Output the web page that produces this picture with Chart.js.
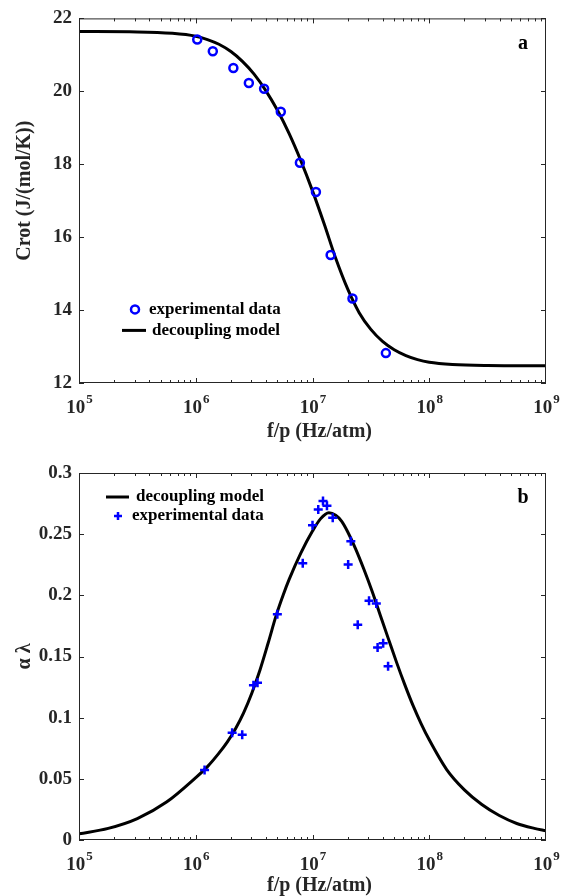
<!DOCTYPE html>
<html lang="en">
<head>
  <meta charset="UTF-8">
  <title>Crot and αλ vs f/p</title>
  <script src="https://cdn.jsdelivr.net/npm/chart.js"></script>
  <style>
    body {
      margin: 0;
      background: #fff;
    }

    .panel {
      position: absolute;
      left: 0;
      width: 569px;
      height: 450px;
    }

    #panelA { top: 0; }
    #panelB { top: 446px; }
  </style>
</head>
<body>
  <div class="panel" id="panelA"><canvas id="chartA" width="569" height="450"></canvas></div>
  <div class="panel" id="panelB"><canvas id="chartB" width="569" height="450"></canvas></div>

  <script>
    // panel a - rotational heat capacity
    const crotExpF = [1.03e6, 1.40e6, 2.10e6, 2.85e6, 3.85e6, 5.35e6, 7.8e6, 1.07e7, 1.43e7, 2.2e7, 4.25e7];
    const crotExpVal = [21.42, 21.10, 20.64, 20.23, 20.07, 19.44, 18.04, 17.24, 15.51, 14.32, 12.82];
    const crotModelF = [1e5, 3.16e5, 6.31e5, 1e6, 1.26e6, 1.58e6, 2.0e6, 2.51e6, 3.16e6, 3.98e6, 5.01e6,
      6.31e6, 7.94e6, 1e7, 1.26e7, 1.58e7, 2.0e7, 2.51e7, 3.16e7, 3.98e7, 5.01e7, 6.31e7, 7.94e7,
      1e8, 1.58e8, 3.16e8, 1e9];
    const crotModelVal = [21.64, 21.63, 21.59, 21.51, 21.42, 21.29, 21.09, 20.82, 20.47, 20.02, 19.48,
      18.84, 18.10, 17.27, 16.36, 15.42, 14.58, 13.93, 13.47, 13.14, 12.91, 12.75, 12.64,
      12.57, 12.51, 12.48, 12.47];

    // panel b - alpha lambda
    const alExpF = [1.19e6, 2.05e6, 2.50e6, 3.12e6, 3.38e6, 5.0e6, 8.25e6, 1.0e7, 1.12e7, 1.23e7,
      1.33e7, 1.49e7, 2.02e7, 2.13e7, 2.44e7, 3.05e7, 3.52e7, 3.61e7, 4.03e7, 4.44e7];
    const alExpVal = [0.0572, 0.0877, 0.0860, 0.1266, 0.1285, 0.1846, 0.2262, 0.2573, 0.2701, 0.2772,
      0.2733, 0.2635, 0.2252, 0.2442, 0.1759, 0.1955, 0.1933, 0.1574, 0.1609, 0.1421];
    const alModelF = [1e5, 1.78e5, 3.16e5, 5.62e5, 1e6, 1.26e6, 1.58e6, 1.86e6, 2.19e6, 2.57e6, 3.02e6,
      3.55e6, 4.17e6, 4.9e6, 5.62e6, 6.31e6, 7.94e6, 1e7, 1.17e7, 1.38e7, 1.58e7, 1.78e7, 2.0e7,
      2.34e7, 2.75e7, 3.24e7, 3.8e7, 4.47e7, 5.25e7, 6.17e7, 7.24e7, 8.51e7, 1e8, 1.41e8, 2.0e8,
      2.82e8, 3.98e8, 5.62e8, 7.94e8, 1e9];
    const alModelVal = [0.005, 0.0095, 0.0175, 0.031, 0.051, 0.060, 0.071, 0.080, 0.091, 0.104, 0.120,
      0.139, 0.161, 0.184, 0.2005, 0.213, 0.2345, 0.2525, 0.2625, 0.2675, 0.2655, 0.2605, 0.252,
      0.238, 0.2215, 0.2033, 0.184, 0.1644, 0.1452, 0.127, 0.1102, 0.0952, 0.0819, 0.0576, 0.041,
      0.029, 0.020, 0.0135, 0.0095, 0.0075];

    const decades = [1e5, 1e6, 1e7, 1e8, 1e9];

    const serif = "'Liberation Serif', 'Times New Roman', serif";
    const ink = '#262626';
    const blue = '#0000ff';

    function pts(xs, ys) {
      return xs.map((x, i) => ({ x: x, y: ys[i] }));
    }

    // box, inward ticks, 10^n labels, axis titles, legend and panel letter, MATLAB style
    const framePlugin = {
      id: 'frame',
      afterDatasetsDraw(chart, args, opts) {
        const ctx = chart.ctx;
        const a = chart.chartArea;
        const xs = chart.scales.x, ys = chart.scales.y;
        ctx.save();
        ctx.strokeStyle = ink;
        ctx.lineWidth = 1;
        ctx.strokeRect(a.left + 0.5, a.top + 0.5, a.right - a.left - 1, a.bottom - a.top - 1);

        ctx.beginPath();
        for (let d = 1e5; d < 1e9; d *= 10) {
          for (let k = 1; k <= 9; k++) {
            const px = Math.round(xs.getPixelForValue(k * d)) + 0.5;
            const len = k === 1 ? 5 : 3;
            ctx.moveTo(px, a.bottom); ctx.lineTo(px, a.bottom - len);
            ctx.moveTo(px, a.top); ctx.lineTo(px, a.top + len);
          }
        }
        ys.ticks.forEach(t => {
          const py = Math.round(ys.getPixelForValue(t.value)) + 0.5;
          ctx.moveTo(a.left, py); ctx.lineTo(a.left + 5, py);
          ctx.moveTo(a.right, py); ctx.lineTo(a.right - 5, py);
        });
        ctx.stroke();

        // x tick labels with raised exponent
        ctx.fillStyle = ink;
        ctx.textBaseline = 'middle';
        ctx.textAlign = 'left';
        decades.forEach(d => {
          const px = xs.getPixelForValue(d);
          const exp = String(Math.round(Math.log10(d)));
          ctx.font = 'bold 19px ' + serif;
          const wBase = ctx.measureText('10').width;
          ctx.font = 'bold 13px ' + serif;
          const wExp = ctx.measureText(exp).width;
          const x0 = px - (wBase + wExp) / 2;
          ctx.font = 'bold 19px ' + serif;
          ctx.fillText('10', x0, a.bottom + 25);
          ctx.font = 'bold 13px ' + serif;
          ctx.fillText(exp, x0 + wBase + 1, a.bottom + 17);
        });

        // axis titles
        ctx.font = 'bold 20px ' + serif;
        ctx.textAlign = 'center';
        ctx.fillText('f/p (Hz/atm)', (a.left + a.right) / 2 + 7, a.bottom + opts.xTitleDy);
        ctx.save();
        ctx.translate(25, (a.top + a.bottom) / 2 + opts.yTitleShift);
        ctx.rotate(-Math.PI / 2);
        ctx.fillText(opts.yTitle, 0, 0);
        ctx.restore();

        // legend
        ctx.font = 'bold 17px ' + serif;
        ctx.fillStyle = '#000';
        ctx.textAlign = 'left';
        opts.legend.forEach(item => {
          const y = a.top + item.dy;
          if (item.kind === 'line') {
            ctx.strokeStyle = '#000';
            ctx.lineWidth = 3;
            ctx.beginPath();
            ctx.moveTo(a.left + item.x0, y); ctx.lineTo(a.left + item.x1, y);
            ctx.stroke();
          } else if (item.kind === 'circle') {
            ctx.strokeStyle = blue;
            ctx.lineWidth = 2.5;
            ctx.beginPath();
            ctx.arc(a.left + item.x0, y, 4, 0, Math.PI * 2);
            ctx.stroke();
          } else {
            ctx.strokeStyle = blue;
            ctx.lineWidth = 2.5;
            ctx.beginPath();
            ctx.moveTo(a.left + item.x0 - 4, y); ctx.lineTo(a.left + item.x0 + 4, y);
            ctx.moveTo(a.left + item.x0, y - 4); ctx.lineTo(a.left + item.x0, y + 4);
            ctx.stroke();
          }
          ctx.fillText(item.text, a.left + item.tx, y);
        });

        ctx.font = 'bold 20px ' + serif;
        ctx.textAlign = 'center';
        ctx.fillText(opts.letter, a.right - 23, a.top + 25);
        ctx.restore();
      }
    };

    function makeChart(id, cfg) {
      return new Chart(document.getElementById(id), {
        type: 'scatter',
        data: {
          datasets: [
            {
              label: 'experimental data',
              data: pts(cfg.expF, cfg.expVal),
              pointStyle: cfg.marker,
              pointRadius: cfg.marker === 'circle' ? 4 : 4.5,
              borderColor: blue,
              backgroundColor: cfg.marker === 'circle' ? 'rgba(0,0,0,0)' : blue,
              borderWidth: 2.5,
              order: 0
            },
            {
              label: 'decoupling model',
              data: pts(cfg.modelF, cfg.modelVal),
              showLine: true,
              borderColor: '#000',
              borderWidth: 3,
              pointRadius: 0,
              cubicInterpolationMode: 'monotone',
              order: 1
            }
          ]
        },
        options: {
          responsive: false,
          animation: false,
          layout: { padding: { top: cfg.top, right: 23, left: 0, bottom: 0 } },
          plugins: {
            legend: { display: false },
            tooltip: { enabled: false },
            frame: {
              legend: cfg.legend, letter: cfg.letter, yTitle: cfg.yTitle,
              yTitleShift: cfg.yTitleShift, xTitleDy: cfg.xTitleDy
            }
          },
          scales: {
            x: {
              type: 'logarithmic',
              min: 1e5,
              max: 1e9,
              grid: { display: false, drawTicks: false },
              border: { display: false },
              afterBuildTicks: s => { s.ticks = decades.map(v => ({ value: v })); },
              afterFit: s => { s.height = cfg.xHeight; },
              ticks: { display: false }
            },
            y: {
              min: cfg.yMin,
              max: cfg.yMax,
              grid: { display: false, drawTicks: false },
              border: { display: false },
              afterFit: s => { s.width = 79; },
              ticks: {
                stepSize: cfg.yStep,
                padding: 7,
                color: ink,
                font: { family: serif, size: 19, weight: 'bold' },
                callback: v => String(+v.toFixed(2))
              }
            }
          }
        },
        plugins: [framePlugin]
      });
    }

    makeChart('chartA', {
      expF: crotExpF, expVal: crotExpVal, modelF: crotModelF, modelVal: crotModelVal,
      marker: 'circle', top: 15, xHeight: 67, xTitleDy: 49,
      yMin: 12, yMax: 22, yStep: 2, yTitle: 'Crot (J/(mol/K))', yTitleShift: -10, letter: 'a',
      legend: [
        { kind: 'circle', x0: 56, tx: 70, dy: 291, text: 'experimental data' },
        { kind: 'line', x0: 43, x1: 67, tx: 73, dy: 312, text: 'decoupling model' }
      ]
    });

    makeChart('chartB', {
      expF: alExpF, expVal: alExpVal, modelF: alModelF, modelVal: alModelVal,
      marker: 'cross', top: 27, xHeight: 56, xTitleDy: 46,
      yMin: 0, yMax: 0.3, yStep: 0.05, yTitle: 'α λ', yTitleShift: 0, letter: 'b',
      legend: [
        { kind: 'line', x0: 27, x1: 50, tx: 57, dy: 24, text: 'decoupling model' },
        { kind: 'plus', x0: 39, tx: 53, dy: 43, text: 'experimental data' }
      ]
    });
  </script>
</body>
</html>
